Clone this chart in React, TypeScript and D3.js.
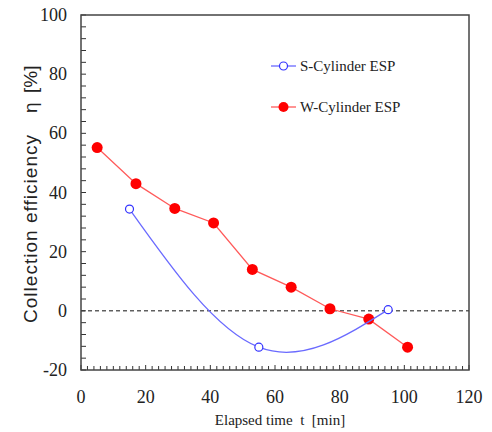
import React, { useEffect, useRef } from "react";
import * as d3 from "d3";

// W-Cylinder ESP (filled red)
const wTime = [5, 17, 29, 41, 53, 65, 77, 89, 101];
const wEff = [55.2, 43, 34.6, 29.7, 14, 8, 0.7, -2.8, -12.3];
// S-Cylinder ESP (open blue, smoothed)
const sTime = [15, 55, 95];
const sEff = [34.4, -12.3, 0.4];

const xTicks = [0, 20, 40, 60, 80, 100, 120];
const yTicks = [-20, 0, 20, 40, 60, 80, 100];

export default function App() {
  const ref = useRef<SVGSVGElement>(null);

  useEffect(() => {
    const svg = d3.select(ref.current);
    svg.selectAll("*").remove();

    const left = 81, right = 469, top = 15, bottom = 370;
    const x = d3.scaleLinear().domain([0, 120]).range([left, right]);
    const y = d3.scaleLinear().domain([-20, 100]).range([bottom, top]);
    const serif = "Liberation Serif, serif";

    // zero reference line
    svg.append("line")
      .attr("x1", x(0)).attr("x2", x(120))
      .attr("y1", y(0)).attr("y2", y(0))
      .attr("stroke", "#111").attr("stroke-width", 1)
      .attr("stroke-dasharray", "4,3");

    // minor ticks, pointing inward
    const g = svg.append("g").attr("stroke", "#333").attr("stroke-width", 1);
    d3.range(0, 121, 2).forEach((v) => {
      const len = v % 20 === 0 ? 5 : 4;
      g.append("line").attr("x1", x(v)).attr("x2", x(v))
        .attr("y1", bottom).attr("y2", bottom - len);
    });
    d3.range(-20, 101, 4).forEach((v) => {
      g.append("line").attr("x1", left).attr("x2", left + 5)
        .attr("y1", y(v)).attr("y2", y(v));
    });

    // frame
    svg.append("rect")
      .attr("x", left).attr("y", top)
      .attr("width", right - left).attr("height", bottom - top)
      .attr("fill", "none").attr("stroke", "#444").attr("stroke-width", 1.5);

    // tick labels
    svg.append("g").selectAll("text").data(xTicks).join("text")
      .attr("x", (d) => x(d)).attr("y", 403)
      .attr("text-anchor", "middle")
      .style("font-family", serif).attr("font-size", 18).attr("fill", "#222")
      .text((d) => d);
    svg.append("g").selectAll("text").data(yTicks).join("text")
      .attr("x", 67).attr("y", (d) => y(d) + 6)
      .attr("text-anchor", "end")
      .style("font-family", serif).attr("font-size", 18).attr("fill", "#222")
      .text((d) => d);

    // axis titles
    svg.append("text")
      .attr("x", 280).attr("y", 425).attr("text-anchor", "middle")
      .style("font-family", serif).attr("font-size", 15).attr("fill", "#222")
      .style("white-space", "pre")
      .text("Elapsed time  t  [min]");
    const yl = svg.append("g").attr("transform", "translate(37,0) rotate(-90)")
      .style("font-family", "Liberation Sans, Arial, sans-serif")
      .attr("font-size", 19).attr("fill", "#222");
    yl.append("text").attr("x", -323).attr("y", 0)
      .attr("textLength", 188).attr("lengthAdjust", "spacing")
      .text("Collection efficiency");
    yl.append("text").attr("x", -113).attr("y", 0).text("η");
    yl.append("text").attr("x", -93).attr("y", 0).text("[%]");

    // W series
    const wData = wTime.map((t, i) => [t, wEff[i]] as [number, number]);
    svg.append("path")
      .attr("d", d3.line().x((d) => x(d[0])).y((d) => y(d[1]))(wData))
      .attr("fill", "none").attr("stroke", "#ff5a5a").attr("stroke-width", 1.3);
    svg.append("g").selectAll("circle").data(wData).join("circle")
      .attr("cx", (d) => x(d[0])).attr("cy", (d) => y(d[1]))
      .attr("r", 5.5).attr("fill", "#ff0000");

    // S series
    const sData = sTime.map((t, i) => [t, sEff[i]] as [number, number]);
    svg.append("path")
      .attr("d", d3.line().curve(d3.curveNatural)
        .x((d) => x(d[0])).y((d) => y(d[1]))(sData))
      .attr("fill", "none").attr("stroke", "#6a6aff").attr("stroke-width", 1.3);
    svg.append("g").selectAll("circle").data(sData).join("circle")
      .attr("cx", (d) => x(d[0])).attr("cy", (d) => y(d[1]))
      .attr("r", 4).attr("fill", "#fff").attr("stroke", "#3333ff").attr("stroke-width", 1.2);

    // legend
    const legend = [
      { label: "S-Cylinder ESP", line: "#6a6aff", fill: "#fff", stroke: "#3333ff", r: 4, ly: 66 },
      { label: "W-Cylinder ESP", line: "#ff5a5a", fill: "#ff0000", stroke: "none", r: 5, ly: 107 },
    ];
    legend.forEach((l) => {
      svg.append("line").attr("x1", 271).attr("x2", 296).attr("y1", l.ly).attr("y2", l.ly)
        .attr("stroke", l.line).attr("stroke-width", 1.3);
      svg.append("circle").attr("cx", 283.5).attr("cy", l.ly).attr("r", l.r)
        .attr("fill", l.fill).attr("stroke", l.stroke).attr("stroke-width", 1.2);
      svg.append("text").attr("x", 300).attr("y", l.ly + 5)
        .style("font-family", serif).attr("font-size", 15).attr("fill", "#222")
        .text(l.label);
    });
  }, []);

  return (
    <svg ref={ref} width={492} height={432}
      style={{ position: "absolute", left: 0, top: 0, background: "#fff" }} />
  );
}
